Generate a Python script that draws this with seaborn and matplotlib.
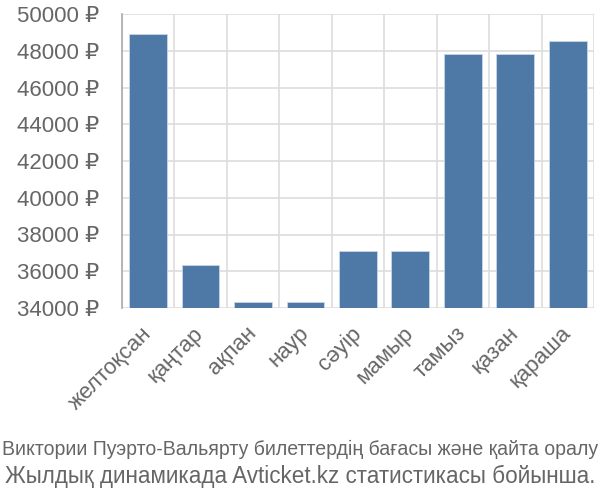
import matplotlib
matplotlib.use("Agg")
import matplotlib.pyplot as plt
import seaborn as sns
import pandas as pd
import numpy as np

months = ["желтоқсан", "қаңтар", "ақпан", "наур", "сәуір", "мамыр", "тамыз", "қазан", "қараша"]
prices = [48900, 36350, 34350, 34350, 37100, 37100, 47800, 47800, 48530]
y_ticks = [34000, 36000, 38000, 40000, 42000, 44000, 46000, 48000, 50000]
caption1 = "Виктории Пуэрто-Вальярту билеттердің бағасы және қайта оралу"
caption2 = "Жылдық динамикада Avticket.kz статистикасы бойынша."

sns.set_style("white")
plt.rcParams['font.family'] = ['Liberation Sans', 'DejaVu Sans']

df = pd.DataFrame({"month": months, "price": prices})

fig = plt.figure(figsize=(6, 5), dpi=100)
ax = fig.add_axes([0.203, 0.384, 0.787, 0.588])

base = y_ticks[0]
df["height"] = df["price"] - base
ax.bar(df["month"], df["height"], bottom=base, width=0.72,
       color="#4e79a7", edgecolor="#c9d6e6", linewidth=0.6, zorder=3)

ax.set_xlim(-0.5, len(months) - 0.5)
ax.set_ylim(y_ticks[0], y_ticks[-1])
ax.set_yticks(y_ticks)
ax.set_yticklabels([f"{v} ₽" for v in y_ticks])
ax.set_xticks(np.arange(len(months)))
ax.set_xticklabels(months, rotation=45, ha="right", va="center", rotation_mode="anchor")
ax.set_xticks(np.arange(len(months) + 1) - 0.5, minor=True)

ax.grid(False)
ax.yaxis.grid(True, color="#dddddd", linewidth=1.2, zorder=0)
ax.xaxis.grid(True, which="minor", color="#dddddd", linewidth=1.2, zorder=0)
ax.set_axisbelow(True)

ax.tick_params(axis="y", which="major", length=15, color="#dddddd", width=1.2,
               labelsize=16, labelcolor="#666666", pad=1)
ax.tick_params(axis="x", which="major", length=0, labelsize=16, labelcolor="#666666", pad=16)
ax.tick_params(axis="x", which="minor", length=15, color="#dddddd", width=1.2)

for s in ["top", "right", "bottom"]:
    ax.spines[s].set_visible(False)
ax.spines["left"].set_color("#aaaaaa")
ax.spines["left"].set_linewidth(1.2)
ax.set_xlabel("")
ax.set_ylabel("")

renderer = fig.canvas.get_renderer()
for txt, ybase, target in [(caption1, 455, 597), (caption2, 483, 595)]:
    t = fig.text(0.5, 1 - ybase / 500, txt, ha="center", va="baseline", fontsize=15,
                 color="#666666")
    w = t.get_window_extent(renderer).width
    t.set_fontsize(15 * target / w)

fig.savefig("out.png", dpi=100)
